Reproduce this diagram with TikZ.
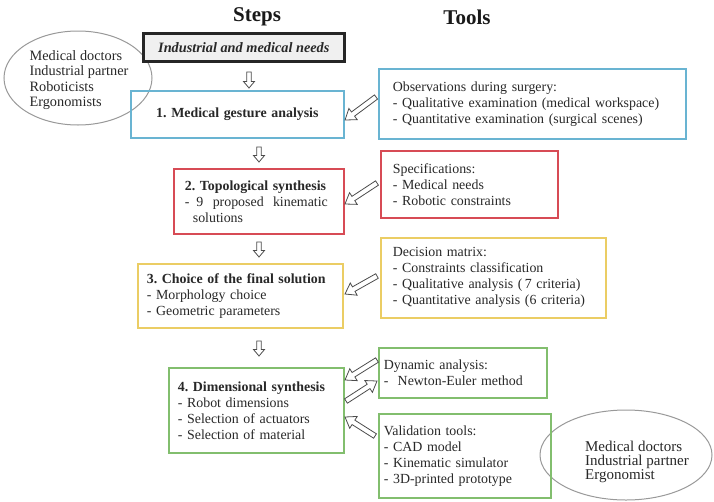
\documentclass[tikz,border=0pt]{standalone}
\usepackage{fontspec}
\setmainfont{Liberation Serif}
\usetikzlibrary{calc,shapes.geometric}
\definecolor{cblue}{RGB}{105,180,210}
\definecolor{cred}{RGB}{215,75,85}
\definecolor{cyel}{RGB}{235,205,100}
\definecolor{cgreen}{RGB}{130,190,110}
\definecolor{ctext}{RGB}{40,40,40}
\hyphenpenalty=10000
\exhyphenpenalty=10000
\tikzset{
  txt/.style={font=\fontsize{13.9}{16}\selectfont\frenchspacing, text=ctext},
  box/.style={txt, line width=1.7pt, anchor=north west, align=left, inner ysep=0pt},
  title/.style={font=\fontsize{21}{24}\selectfont\bfseries, text=black!90},
  oval/.style={ellipse, draw=black!40, line width=1pt, inner sep=0pt},
  diag/.code={\def\aw{2.6pt}\def\ahw{7pt}\def\ahl{10pt}},
  vert/.code={\def\aw{2.2pt}\def\ahw{5.5pt}\def\ahl{6.5pt}},
  blockarrow/.style={draw=black!70, line width=0.8pt, fill=white, line join=miter,
    to path={($(\tikztostart)!\aw!-90:(\tikztotarget)$)
      -- ($(\tikztotarget)!\ahl!(\tikztostart)!\aw!90:(\tikztostart)$)
      -- ($(\tikztotarget)!\ahl!(\tikztostart)!\ahw!90:(\tikztostart)$)
      -- (\tikztotarget)
      -- ($(\tikztotarget)!\ahl!(\tikztostart)!\ahw!-90:(\tikztostart)$)
      -- ($(\tikztotarget)!\ahl!(\tikztostart)!\aw!-90:(\tikztostart)$)
      -- ($(\tikztostart)!\aw!90:(\tikztotarget)$) -- cycle}}
}
\begin{document}
\begin{tikzpicture}[x=1pt,y=-1pt]
\useasboundingbox[fill=white] (0,0) rectangle (714,501);

% titles
\node[title] (steps) at (257,17) {Steps};
\node[title] (tools) at (467,17) {Tools};

% ellipses
\node[oval, minimum width=148, minimum height=94] (p1) at (78,78) {};
\node[txt, align=left, font=\fontsize{14.3}{15.3}\selectfont] (p1t) at (79,80) {Medical doctors\\Industrial partner\\Roboticists\\Ergonomists};
\node[oval, minimum width=172, minimum height=90] (p2) at (626,455) {};
\node[txt, align=left, font=\fontsize{15}{14.3}\selectfont] (p2t) at (637,462) {Medical doctors\\Industrial partner\\Ergonomist};

% step boxes
\node[box, draw=black!85, line width=2.6pt, fill=black!6, align=center, minimum width=201, minimum height=28, inner xsep=0pt,
  font=\fontsize{14.3}{16}\selectfont\bfseries\itshape] (need) at (142,32) {Industrial and medical needs};
\node[box, draw=cblue, align=center, text width=213, inner xsep=0pt, minimum height=47] (s1) at (130,90)
  {\textbf{1. Medical gesture analysis}};
\node[box, draw=cred, text width=148, inner xsep=11pt, minimum height=65] (s2) at (173,168)
  {\textbf{2. Topological synthesis}\\\makebox[143pt][l]{-\hspace{7pt}9\hfill proposed\hfill kinematic}\\\hspace*{8pt}solutions};
\node[box, draw=cyel, text width=187, inner xsep=9pt, minimum height=64] (s3) at (137,263)
  {\textbf{3. Choice of the final solution}\\- Morphology choice\\- Geometric parameters};
\node[box, draw=cgreen, text width=157, inner xsep=9pt, minimum height=85] (s4) at (168,367)
  {\textbf{4. Dimensional synthesis}\\- Robot dimensions\\- Selection of actuators\\- Selection of material};

% tool boxes
\node[box, draw=cblue, text width=279, inner xsep=14pt, minimum height=70] (t1) at (378,68)
  {Observations during surgery:\\- Qualitative examination (medical workspace)\\- Quantitative examination (surgical scenes)};
\node[box, draw=cred, text width=153, inner xsep=12pt, minimum height=67] (t2) at (380,150)
  {Specifications:\\- Medical needs\\- Robotic constraints};
\node[box, draw=cyel, text width=201, inner xsep=12pt, minimum height=80] (t3) at (380,237)
  {Decision matrix:\\- Constraints classification\\- Qualitative analysis (\,7 criteria)\\- Quantitative analysis (6 criteria)};
\node[box, draw=cgreen, text width=158, inner xsep=5pt, minimum height=50] (t4) at (378,347)
  {Dynamic analysis:\\-\ \ Newton-Euler method};
\node[box, draw=cgreen, text width=162, inner xsep=5pt, minimum height=84] (t5) at (378,413)
  {Validation tools:\\- CAD model\\- Kinematic simulator\\- 3D-printed prototype};

% arrow end points
\coordinate (d1s) at (249,72);  \coordinate (d1e) at (249,88);
\coordinate (d2s) at (259,147); \coordinate (d2e) at (259,162);
\coordinate (d3s) at (259,242); \coordinate (d3e) at (259,257);
\coordinate (d4s) at (259,341); \coordinate (d4e) at (259,356);
\coordinate (a1s) at (376,97);  \coordinate (a1e) at (345,120);
\coordinate (a2s) at (377,183); \coordinate (a2e) at (345,204);
\coordinate (a3s) at (377,276); \coordinate (a3e) at (345,294);
\coordinate (a4s) at (377,360); \coordinate (a4e) at (345,380);
\coordinate (a5s) at (346,401); \coordinate (a5e) at (377,381);
\coordinate (a6s) at (375,436); \coordinate (a6e) at (345,417);

\draw[blockarrow, vert] (d1s) to (d1e);
\draw[blockarrow, vert] (d2s) to (d2e);
\draw[blockarrow, vert] (d3s) to (d3e);
\draw[blockarrow, vert] (d4s) to (d4e);
\draw[blockarrow, diag] (a1s) to (a1e);
\draw[blockarrow, diag] (a2s) to (a2e);
\draw[blockarrow, diag] (a3s) to (a3e);
\draw[blockarrow, diag] (a4s) to (a4e);
\draw[blockarrow, diag] (a5s) to (a5e);
\draw[blockarrow, diag] (a6s) to (a6e);
\end{tikzpicture}
\end{document}
